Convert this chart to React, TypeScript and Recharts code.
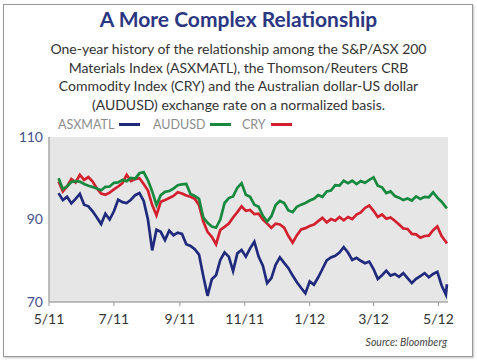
import { CartesianGrid, Line, LineChart, XAxis, YAxis } from "recharts";

// day offsets from 5/1/11
const days = [
  9, 13, 17, 21, 25, 29, 33, 37, 41, 45,
  49, 53, 57, 61, 65, 69, 73, 77, 81, 85,
  89, 93, 97, 101, 105, 109, 113, 117, 121, 125,
  129, 133, 137, 141, 145, 149, 153, 157, 161, 165,
  169, 173, 177, 181, 185, 189, 193, 197, 201, 205,
  209, 213, 217, 221, 225, 229, 233, 237, 241, 245,
  249, 253, 257, 261, 265, 269, 273, 277, 281, 285,
  289, 293, 297, 301, 305, 309, 313, 317, 321, 325,
  329, 333, 337, 341, 345, 349, 353, 357, 361, 365,
  369, 373, 374,
];

const asxmatl = [
  96.4, 94.7, 95.5, 93.9, 95.0, 96.2, 93.6, 93.2, 92.0, 90.5,
  88.9, 91.4, 90.0, 92.0, 94.8, 94.2, 94.0, 94.8, 95.9, 96.4,
  94.5, 90.0, 82.5, 87.5, 87.0, 85.0, 87.3, 86.2, 86.8, 86.5,
  84.0, 83.6, 82.8, 81.5, 76.3, 71.5, 75.5, 76.5, 80.2, 82.0,
  81.0, 77.5, 81.8, 82.6, 81.0, 83.0, 84.6, 81.0, 78.8, 74.6,
  75.8, 79.0, 80.8, 79.5, 78.2, 76.4, 74.8, 73.4, 72.1, 75.0,
  74.2, 76.0, 78.0, 80.1, 80.8, 81.2, 82.0, 83.3, 82.0, 80.2,
  80.7, 80.0, 79.4, 79.8, 78.0, 75.6, 76.5, 77.6, 76.4, 76.8,
  76.1, 77.0, 75.8, 74.6, 75.6, 76.3, 77.0, 76.0, 76.8, 77.3,
  74.0, 71.8, 74.3,
];

const audusd = [
  100.0, 97.4, 98.0, 99.1, 99.3, 99.2, 98.6, 98.2, 97.9, 97.5,
  97.1, 97.9, 98.0, 98.9, 99.0, 99.6, 99.3, 100.1, 99.9, 101.2,
  101.5, 99.5, 96.8, 93.5, 95.9, 96.7, 96.9, 97.5, 98.3, 98.5,
  98.6, 96.2, 95.7, 95.0, 90.5, 89.2, 88.3, 88.0, 90.0, 94.0,
  95.2, 95.6, 97.7, 98.8, 96.0, 95.5, 93.6, 93.1, 90.9, 89.5,
  90.8, 93.5, 94.5, 94.0, 92.2, 91.8, 93.1, 93.6, 94.0, 94.6,
  95.0, 95.9, 95.5, 96.8, 97.0, 98.3, 98.2, 99.4, 98.8, 99.4,
  98.6, 99.3, 98.9, 99.6, 100.2, 98.2, 97.8, 96.4, 96.8, 95.7,
  95.3, 94.7, 95.1, 94.6, 95.6, 95.0, 95.5, 95.4, 96.6, 95.3,
  94.3, 93.0, 92.7,
];

const cry = [
  99.2, 96.8, 98.0, 99.8, 99.0, 100.8, 99.6, 100.3, 99.2, 97.5,
  96.3, 96.0, 96.5, 97.3, 98.0, 98.8, 100.8, 99.3, 99.8, 100.0,
  98.6, 97.0, 93.5, 91.0, 94.3, 94.7, 95.2, 95.7, 96.6, 96.3,
  95.8, 95.5, 95.0, 93.5, 89.5, 87.0, 85.8, 84.0, 87.5, 88.2,
  89.0, 90.5, 91.8, 93.2, 92.1, 92.3, 91.3, 91.4, 90.0, 89.0,
  88.0, 89.0, 88.8, 88.0, 86.0, 84.4, 86.2, 87.6, 87.9, 88.4,
  88.8, 89.6, 90.4, 89.3, 90.1, 89.7, 90.6, 89.8, 90.6, 90.1,
  91.2, 91.7, 92.8, 93.4, 92.1, 90.6, 91.2, 90.2, 90.5, 89.7,
  88.8, 87.8, 87.7, 86.5, 86.4, 85.6, 86.0, 86.1, 87.4, 88.3,
  86.0, 84.6, 84.2,
];

const monthTicks = [0, 61, 123, 184, 245, 305, 366];
const monthLabels = ["5/11", "7/11", "9/11", "11/11", "1/12", "3/12", "5/12"];
const yTicks = [70, 90, 110];

const data = days.map((d, i) => ({
  day: d,
  asx: asxmatl[i],
  aud: audusd[i],
  cry: cry[i],
}));

const BLUE = "#1f2a7c";
const GREEN = "#16893f";
const RED = "#d3202f";
const FRAME = "#a9a9a9";

const legendItems = [
  { label: "ASXMATL", color: BLUE, left: 58 },
  { label: "AUDUSD", color: GREEN, left: 153 },
  { label: "CRY", color: RED, left: 242 },
];

export default function App() {
  return (
    <div
      style={{
        position: "absolute",
        left: 0,
        top: 0,
        width: 477,
        height: 362,
        background: "#fff",
        fontFamily: "Lato, sans-serif",
      }}
    >
      <div
        style={{
          position: "absolute",
          left: 3,
          top: 4,
          width: 468,
          height: 351,
          border: "1px solid #999",
          boxShadow: "1px 1px 2px #c4c4c4",
        }}
      />
      <div
        style={{
          position: "absolute",
          top: 6,
          left: 0,
          width: 477,
          textAlign: "center",
          fontSize: 21,
          fontWeight: 700,
          color: "#2b3782",
        }}
      >
        A More Complex Relationship
      </div>
      <div
        style={{
          position: "absolute",
          top: 40,
          left: 0,
          width: 477,
          textAlign: "center",
          fontSize: 14,
          lineHeight: "18.5px",
          color: "#333",
        }}
      >
        One-year history of the relationship among the S&amp;P/ASX 200
        <br />
        Materials Index (ASXMATL), the Thomson/Reuters CRB
        <br />
        Commodity Index (CRY) and the Australian dollar-US dollar
        <br />
        (AUDUSD) exchange rate on a normalized basis.
      </div>
      {legendItems.map((it) => (
        <div
          key={it.label}
          style={{
            position: "absolute",
            top: 117,
            left: it.left,
            display: "flex",
            alignItems: "center",
            fontSize: 12.5,
            color: "#8c8c8c",
          }}
        >
          <span>{it.label}</span>
          <span
            style={{
              display: "inline-block",
              width: 21,
              height: 3,
              marginLeft: 5,
              background: it.color,
            }}
          />
        </div>
      ))}
      <div style={{ position: "absolute", left: 0, top: 0 }}>
        <LineChart
          width={477}
          height={362}
          data={data}
          margin={{ top: 137, right: 29, bottom: 30, left: 0 }}
        >
          <CartesianGrid fill="#e6e6e6" horizontal={false} vertical={false} />
          <XAxis
            dataKey="day"
            type="number"
            domain={[0, 375]}
            ticks={monthTicks}
            tickFormatter={(v: number) => monthLabels[monthTicks.indexOf(v)]}
            height={30}
            tickSize={4}
            tickMargin={8}
            axisLine={{ stroke: FRAME, strokeWidth: 1.5 }}
            tickLine={{ stroke: "#999" }}
            tick={{ fill: "#333", fontSize: 14 }}
          />
          <XAxis
            xAxisId="top"
            orientation="top"
            dataKey="day"
            type="number"
            domain={[0, 375]}
            height={0}
            tick={false}
            tickLine={false}
            axisLine={{ stroke: "#c2c2c2" }}
          />
          <YAxis
            domain={[70, 110]}
            ticks={yTicks}
            width={49}
            tickSize={0}
            tickMargin={6}
            axisLine={{ stroke: FRAME, strokeWidth: 1.5 }}
            tickLine={false}
            tick={{ fill: "#44508c", fontSize: 14 }}
          />
          <YAxis
            yAxisId="right"
            orientation="right"
            domain={[70, 110]}
            width={0}
            tick={false}
            tickLine={false}
            axisLine={{ stroke: "#c2c2c2" }}
          />
          <Line
            dataKey="cry"
            stroke={RED}
            strokeWidth={2.7}
            dot={false}
            isAnimationActive={false}
          />
          <Line
            dataKey="aud"
            stroke={GREEN}
            strokeWidth={2.7}
            dot={false}
            isAnimationActive={false}
          />
          <Line
            dataKey="asx"
            stroke={BLUE}
            strokeWidth={2.7}
            dot={false}
            isAnimationActive={false}
          />
        </LineChart>
      </div>
      <div
        style={{
          position: "absolute",
          right: 30,
          top: 336,
          fontSize: 10.5,
          fontStyle: "italic",
          color: "#444",
        }}
      >
        Source: Bloomberg
      </div>
    </div>
  );
}
